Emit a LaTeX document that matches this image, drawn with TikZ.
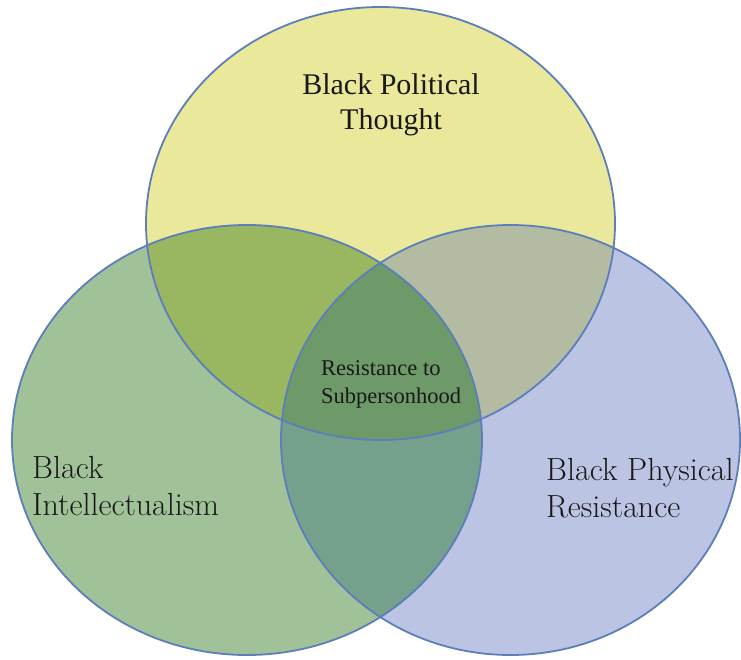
\documentclass[tikz,border=0pt]{standalone}
\usepackage{fontspec}
\newfontfamily\timesfont{Liberation Serif}
\usetikzlibrary{positioning}

\definecolor{ringblue}{RGB}{92,126,186}
\definecolor{polfill}{RGB}{234,232,155}
\definecolor{intfill}{RGB}{161,193,152}
\definecolor{phyfill}{RGB}{187,196,226}
\definecolor{polint}{RGB}{153,183,96}
\definecolor{polphy}{RGB}{179,188,163}
\definecolor{intphy}{RGB}{117,160,140}
\definecolor{corefill}{RGB}{110,153,105}
\definecolor{inkgray}{RGB}{25,25,25}

\begin{document}
\begin{tikzpicture}[x=1pt,y=-1pt,
    ring/.style={draw=ringblue, line width=1.8pt},
    setname/.style={text=inkgray, inner sep=0pt}]
    \useasboundingbox (0,0) rectangle (741,660);
    \coordinate (pol) at (380.5,223.5);
    \coordinate (int) at (247,440);
    \coordinate (phy) at (510.5,440);
    \def\polset{(pol) ellipse [x radius=234.5, y radius=216.5]}
    \def\intset{(int) ellipse [x radius=235, y radius=215]}
    \def\physet{(phy) ellipse [x radius=229.5, y radius=215]}

    % plain sets
    \fill[polfill] \polset;
    \fill[intfill] \intset;
    \fill[phyfill] \physet;
    % overlaps
    \begin{scope}
        \clip \polset;
        \fill[polint] \intset;
        \fill[polphy] \physet;
    \end{scope}
    \begin{scope}
        \clip \intset;
        \fill[intphy] \physet;
    \end{scope}
    \begin{scope}
        \clip \polset;
        \clip \intset;
        \fill[corefill] \physet;
    \end{scope}
    \draw[ring] \polset;
    \draw[ring] \intset;
    \draw[ring] \physet;

    % labels (base anchor sits on the last line)
    \node[setname, align=center, anchor=base, font=\timesfont\fontsize{30}{35}\selectfont] (polname) at (391,130) {Black Political\\Thought};
    \node[setname, align=left, anchor=base west, font=\timesfont\fontsize{22.5}{28}\selectfont] (core) at (321,403) {Resistance to\\Subpersonhood};
    \node[setname, align=left, anchor=base west, font=\fontsize{32}{37}\selectfont] (intname) at (32,515) {Black\\Intellectualism};
    \node[setname, align=left, anchor=base west, font=\fontsize{32}{37}\selectfont] (phyname) at (546,517) {Black Physical\\Resistance};
\end{tikzpicture}
\end{document}
